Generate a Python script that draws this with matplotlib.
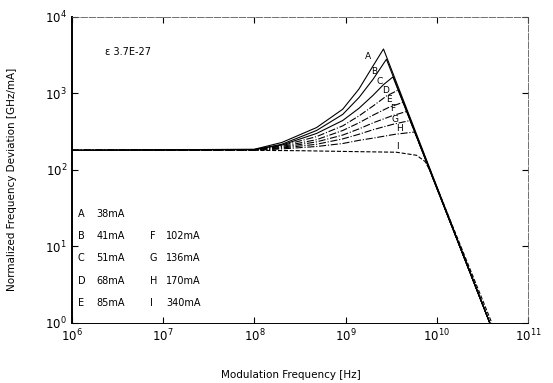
import numpy as np
import matplotlib
matplotlib.use('Agg')
import matplotlib.pyplot as plt

plt.rcParams['font.family'] = ['DejaVu Sans']
plt.rcParams['mathtext.default'] = 'regular'

# modulation frequency [Hz] and normalized deviation [GHz/mA]
f_A = [1e6, 1e8, 2.0e8, 4.8e8, 9.3e8, 1.4e9, 2.0e9, 2.6e9, 3.8e10]
d_A = [180, 186, 228, 357, 621, 1140, 2290, 3800, 1]
f_B = [1e6, 1e8, 2.0e8, 4.8e8, 9.3e8, 1.4e9, 2.0e9, 2.8e9, 3.8e10]
d_B = [180, 184, 216, 327, 531, 881, 1530, 2790, 1]
f_C = [1e6, 1e8, 2.0e8, 4.8e8, 9.3e8, 1.4e9, 2.0e9, 2.6e9, 3.3e9, 3.8e10]
d_C = [180, 184, 211, 299, 442, 638, 944, 1300, 1640, 1]
f_D = [1e6, 1e8, 2.0e8, 4.8e8, 9.3e8, 1.4e9, 2.0e9, 2.8e9, 3.8e9, 3.8e10]
d_D = [180, 184, 207, 272, 376, 507, 684, 923, 1110, 1]
f_E = [1e6, 1e8, 2.0e8, 4.8e8, 9.3e8, 1.4e9, 2.0e9, 2.95e9, 4.3e9, 3.8e10]
d_E = [180, 184, 202, 248, 327, 412, 519, 653, 767, 1]
f_F = [1e6, 1e8, 2.0e8, 4.8e8, 9.3e8, 1.4e9, 2.0e9, 3.2e9, 4.7e9, 3.8e10]
d_F = [180, 182, 197, 232, 285, 343, 412, 507, 582, 1]
f_G = [1e6, 1e8, 2.0e8, 4.8e8, 9.3e8, 1.4e9, 2.0e9, 3.3e9, 5.1e9, 3.8e10]
d_G = [180, 182, 193, 216, 254, 292, 335, 394, 442, 1]
f_H = [1e6, 1e8, 2.0e8, 4.8e8, 9.3e8, 1.4e9, 2.0e9, 3.5e9, 5.75e9, 3.8e10]
d_H = [180, 180, 188, 202, 221, 243, 260, 292, 313, 1]
f_I = [1e6, 1e8, 3.2e8, 1e9, 3.6e9, 6.0e9, 7.4e9, 8.5e9, 4.0e10]
d_I = [180, 180, 178, 174, 170, 155, 129, 96, 1]

letters = ['A', 'B', 'C', 'D', 'E', 'F', 'G', 'H', 'I']
currents = ['38mA', '41mA', '51mA', '68mA', '85mA', '102mA', '136mA', '170mA', '340mA']

# where the curve letters sit
lab_f = [1.74e9, 2.07e9, 2.35e9, 2.74e9, 2.95e9, 3.3e9, 3.47e9, 3.9e9, 3.7e9]
lab_d = [2990, 1950, 1445, 1100, 838, 642, 460, 349, 203]

curves = [(f_A, d_A, '-'), (f_B, d_B, '-'), (f_C, d_C, '-'),
          (f_D, d_D, '-.'), (f_E, d_E, '-.'), (f_F, d_F, '-.'),
          (f_G, d_G, '-.'), (f_H, d_H, '-.'), (f_I, d_I, '--')]

fig = plt.figure(figsize=(5.53, 3.83), dpi=100)
ax = fig.add_axes([0.130, 0.157, 0.825, 0.799])

for f, d, ls in curves:
    ax.plot(f, d, color='black', lw=0.8, ls=ls)

for s, x, y in zip(letters, lab_f, lab_d):
    ax.text(x, y, s, fontsize=6.5, ha='center', va='center')

ax.set_xscale('log')
ax.set_yscale('log')
ax.set_xlim(1e6, 1e11)
ax.set_ylim(1e0, 1e4)
ax.minorticks_off()
ax.tick_params(which='major', direction='in', length=4, width=0.8,
               top=True, right=True, labelsize=8.5)
for side in ['top', 'right']:
    ax.spines[side].set_linewidth(0.6)
    ax.spines[side].set_color('0.35')
    ax.spines[side].set_linestyle((0, (8, 2)))
ax.spines['bottom'].set_linewidth(0.7)
ax.spines['left'].set_linewidth(1.4)

ax.text(0.072, 0.875, 'ε 3.7E-27', transform=ax.transAxes, fontsize=7)

# legend table, left column A-E, right column F-I
rows = [0.357, 0.285, 0.213, 0.138, 0.066]
for i in range(5):
    ax.text(0.013, rows[i], letters[i], transform=ax.transAxes, fontsize=7, va='center')
    ax.text(0.053, rows[i], currents[i], transform=ax.transAxes, fontsize=7, va='center')
for i in range(4):
    ax.text(0.171, rows[i + 1], letters[i + 5], transform=ax.transAxes, fontsize=7, va='center')
    ax.text(0.206, rows[i + 1], currents[i + 5], transform=ax.transAxes, fontsize=7, va='center')

ax.set_xlabel('Modulation Frequency [Hz]', fontsize=7.5)
ax.set_ylabel('Normalized Frequency Deviation [GHz/mA]', fontsize=7.5)
ax.xaxis.set_label_coords(0.48, -0.155)
ax.yaxis.set_label_coords(-0.12, 0.47)

fig.savefig('out.png', dpi=100)
